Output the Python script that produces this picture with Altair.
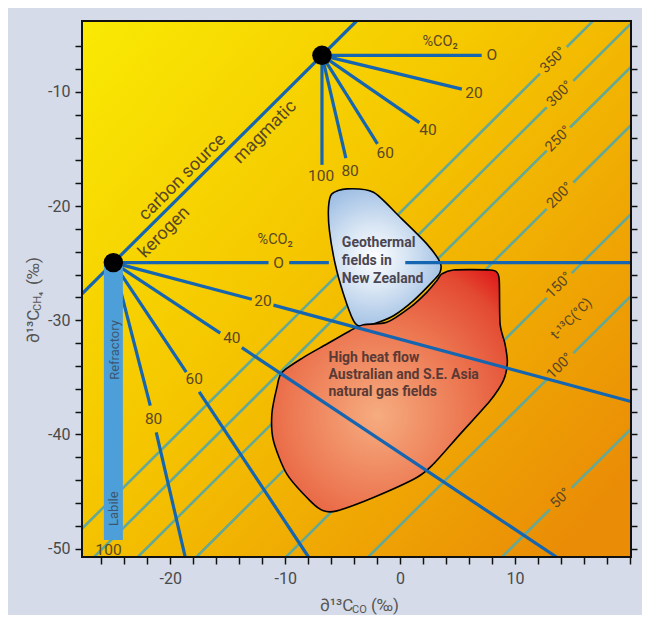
import altair as alt
import pandas as pd

W, H = 549, 536
X_DOMAIN = [-27.68, 20.09]
Y_DOMAIN = [-50.73, -3.79]

BLUE = "#1565b0"
TEAL = "#64a896"
TXT = "#5a4726"
FONT = "Roboto, Liberation Sans, sans-serif"

# ---------------- data ----------------
# carbon source mixing line (kerogen -> magmatic)
source_names = ["kerogen", "magmatic"]
source_x = [-24.95, -6.8]
source_y = [-24.95, -6.8]
carbon_line_x = [-27.68, -3.79]
carbon_line_y = [-27.68, -3.79]

# %CO2 rays from the magmatic end member
mag_co2 = ["O", "20", "40", "60", "80", "100"]
mag_end_x = [7.1, 5.37, 1.68, -1.97, -4.72, -6.8]
mag_end_y = [-6.8, -9.76, -12.69, -14.55, -15.80, -16.39]
mag_lab_x = [7.97, 6.43, 2.43, -1.30, -4.35, -6.87]
mag_lab_y = [-6.76, -10.06, -13.33, -15.31, -16.89, -17.35]

# %CO2 rays from the kerogen end member (segments, broken at labels)
ker_seg_x1 = [-24.95, -9.65, 0.45, -24.95, -11.02, -24.95, -13.77, -24.95, -17.48, -24.95, -21.22]
ker_seg_y1 = [-24.95, -24.95, -24.95, -24.95, -28.67, -24.95, -32.40, -24.95, -36.27, -24.95, -39.82]
ker_seg_x2 = [-11.45, -6.2, 20.09, -12.9, 20.09, -15.65, 13.6, -18.61, -7.97, -21.74, -18.7]
ker_seg_y2 = [-24.95, -24.95, -24.95, -28.16, -37.11, -31.13, -50.73, -34.54, -50.73, -37.48, -50.73]
ker_co2 = ["O", "20", "40", "60", "80", "100"]
ker_lab_x = [-10.58, -11.94, -14.64, -17.91, -21.45, -25.37]
ker_lab_y = [-24.95, -28.27, -31.56, -35.15, -38.62, -50.15]

co2_title_x = [3.48, -10.87]
co2_title_y = [-5.60, -22.95]

# refractory / labile bar
bar_x = -24.95
bar_y_top = -24.95
bar_y_bottom = -49.25
bar_text = ["Refractory", "Labile"]
bar_text_x = [-24.85, -24.9]
bar_text_y = [-32.6, -46.5]

# temperature isotherms  (y = x + c), broken where labelled
temps = [350, 300, 250, 200, 150, 100, 50]
temp_c = [-20.57, -24.1, -27.9, -33.0, -40.8, -47.95, -59.6]
gap_lo = [12.17, 12.76, 12.76, 12.76, 12.76, 12.76, 13.04]
gap_hi = [14.5, 15.07, 14.78, 15.07, 14.93, 15.07, 14.93]

# geothermal fields polygon
geo_x = [-5.94, -4.63, -2.32, 0.0, 2.32, 3.48, 3.48, 2.90, 1.16, -0.58, -2.32, -3.48,
         -4.06, -4.93, -5.65, -6.15, -6.23]
geo_y = [-18.93, -18.49, -18.79, -20.98, -23.31, -24.93, -25.80, -26.53, -28.28, -29.60,
         -30.32, -30.53, -30.03, -27.69, -25.07, -22.15, -20.11]

# high heat flow gas fields polygon
gas_x = [3.63, 4.63, 7.83, 8.41, 8.63, 8.70, 9.13, 9.33, 8.98, 7.83, 5.22, 2.90, 1.45,
         -2.32, -5.50, -6.67, -7.83, -9.85, -11.02, -11.16, -10.72, -10.29, -8.41, -6.37,
         -4.35, -3.19, -1.16, 0.87, 2.32, 3.19]
gas_y = [-25.94, -25.59, -25.59, -25.80, -26.53, -30.32, -32.08, -33.69, -35.29, -37.05,
         -39.97, -42.59, -43.77, -45.52, -46.69, -46.69, -45.81, -43.47, -40.55, -38.21,
         -35.88, -34.57, -33.25, -32.08, -30.91, -30.39, -30.18, -28.87, -27.55, -26.53]

geo_lines = ["Geothermal", "fields in", "New Zealand"]
geo_text_x = -5.07
geo_text_y = [-23.24, -24.79, -26.37]
gas_lines = ["High heat flow", "Australian and S.E. Asia", "natural gas fields"]
gas_text_x = -6.23
gas_text_y = [-33.26, -34.83, -36.32]

rot_labels = ["carbon source", "kerogen", "magmatic", "t-\u00b9\u00b3C(\u00b0C)"]
rot_x = [-18.93, -20.52, -11.74, 14.93]
rot_y = [-17.48, -22.3, -13.53, -29.89]

x_ticks = list(range(-26, 21, 2))
y_ticks = list(range(-50, -5, 2))

# ---------------- helpers ----------------
xs = alt.Scale(domain=X_DOMAIN, nice=False, zero=False)
ys = alt.Scale(domain=Y_DOMAIN, nice=False, zero=False)


def X(f, **kw):
    return alt.X(f, type="quantitative", scale=xs, axis=None, **kw)


def Y(f, **kw):
    return alt.Y(f, type="quantitative", scale=ys, axis=None, **kw)


one = pd.DataFrame({"a": [0]})

bg = alt.Chart(one).mark_rect(
    fill=alt.LinearGradient(
        gradient="linear", x1=0, y1=0, x2=1, y2=0.85,
        stops=[alt.GradientStop(color="#f9ea03", offset=0),
               alt.GradientStop(color="#f5c600", offset=0.45),
               alt.GradientStop(color="#ea8c06", offset=1)])
).encode(x=alt.value(0), x2=alt.value(W), y=alt.value(0), y2=alt.value(H))

# isotherm segments
rows = []
for t, c, lo, hi in zip(temps, temp_c, gap_lo, gap_hi):
    rows.append({"x1": -40, "y1": -40 + c, "x2": lo, "y2": lo + c})
    rows.append({"x1": hi, "y1": hi + c, "x2": 40, "y2": 40 + c})
iso = alt.Chart(pd.DataFrame(rows)).mark_rule(clip=True, stroke=TEAL, strokeWidth=2.6).encode(
    x=X("x1"), y=Y("y1"), x2="x2", y2="y2")

iso_lab = pd.DataFrame({
    "t": [f"{t}\u00b0" for t in temps],
    "x": [(a + b) / 2 for a, b in zip(gap_lo, gap_hi)],
    "y": [(a + b) / 2 + c for a, b, c in zip(gap_lo, gap_hi, temp_c)],
})
iso_text = alt.Chart(iso_lab).mark_text(font=FONT, fontSize=14.5, color=TXT, angle=315).encode(
    x=X("x"), y=Y("y"), text="t:N")

geo_grad = alt.RadialGradient(
    gradient="radial", x1=0.42, y1=0.5, r1=0, x2=0.42, y2=0.5, r2=0.62,
    stops=[alt.GradientStop(color="#ffffff", offset=0),
           alt.GradientStop(color="#d6e4f3", offset=0.4),
           alt.GradientStop(color="#8eb3df", offset=1)])
gas_grad = alt.RadialGradient(
    gradient="radial", x1=0.45, y1=0.6, r1=0, x2=0.45, y2=0.6, r2=0.75,
    stops=[alt.GradientStop(color="#f6ac80", offset=0),
           alt.GradientStop(color="#ec7650", offset=0.5),
           alt.GradientStop(color="#e34a32", offset=0.85),
           alt.GradientStop(color="#e01f1c", offset=1)])

geo_df = pd.DataFrame({"i": range(len(geo_x)), "x": geo_x, "y": geo_y})
gas_df = pd.DataFrame({"i": range(len(gas_x)), "x": gas_x, "y": gas_y})
geo_poly = alt.Chart(geo_df).mark_line(
    interpolate="cardinal-closed", tension=0.2, fill=geo_grad, stroke="black", strokeWidth=1.6
).encode(x=X("x"), y=Y("y"), order="i:Q")
gas_poly = alt.Chart(gas_df).mark_line(
    interpolate="cardinal-closed", tension=0.2, fill=gas_grad, stroke="black", strokeWidth=1.6
).encode(x=X("x"), y=Y("y"), order="i:Q")

# carbon source line
cs = alt.Chart(pd.DataFrame({"x1": [carbon_line_x[0]], "y1": [carbon_line_y[0]],
                             "x2": [carbon_line_x[1]], "y2": [carbon_line_y[1]]})
               ).mark_rule(stroke=BLUE, strokeWidth=3.2).encode(x=X("x1"), y=Y("y1"), x2="x2", y2="y2")

mag_df = pd.DataFrame({"x1": [source_x[1]] * 6, "y1": [source_y[1]] * 6,
                       "x2": mag_end_x, "y2": mag_end_y})
mag_rays = alt.Chart(mag_df).mark_rule(stroke=BLUE, strokeWidth=3.2).encode(
    x=X("x1"), y=Y("y1"), x2="x2", y2="y2")

ker_df = pd.DataFrame({"x1": ker_seg_x1, "y1": ker_seg_y1, "x2": ker_seg_x2, "y2": ker_seg_y2})
ker_rays = alt.Chart(ker_df).mark_rule(stroke=BLUE, strokeWidth=3.2).encode(
    x=X("x1"), y=Y("y1"), x2="x2", y2="y2")

bar = alt.Chart(pd.DataFrame({"x": [bar_x], "y": [bar_y_top], "y2": [bar_y_bottom]})).mark_rule(
    stroke="#4c9fd8", strokeWidth=19).encode(x=X("x"), y=Y("y"), y2="y2")
bar_txt = alt.Chart(pd.DataFrame({"t": bar_text, "x": bar_text_x, "y": bar_text_y})).mark_text(
    font=FONT, fontSize=13, color="#3e5670", angle=270).encode(x=X("x"), y=Y("y"), text="t:N")

lab_df = pd.DataFrame({"t": mag_co2 + ker_co2, "x": mag_lab_x + ker_lab_x, "y": mag_lab_y + ker_lab_y})
labels = alt.Chart(lab_df).mark_text(font=FONT, fontSize=15.5, color=TXT).encode(
    x=X("x"), y=Y("y"), text="t:N")
co2t = alt.Chart(pd.DataFrame({"t": ["%CO\u2082"] * 2, "x": co2_title_x, "y": co2_title_y})).mark_text(
    font=FONT, fontSize=14.5, color=TXT).encode(x=X("x"), y=Y("y"), text="t:N")

rot = alt.Chart(pd.DataFrame({"t": rot_labels, "x": rot_x, "y": rot_y,
                              "s": [18, 18, 18, 14]})).mark_text(
    font=FONT, color=TXT, angle=315).encode(
    x=X("x"), y=Y("y"), text="t:N", size=alt.Size("s:Q", scale=None, legend=None))

geo_t = alt.Chart(pd.DataFrame({"t": geo_lines, "y": geo_text_y, "x": [geo_text_x] * 3})).mark_text(
    font=FONT, fontSize=14, fontWeight="bold", color="#4a4652", align="left").encode(
    x=X("x"), y=Y("y"), text="t:N")
gas_t = alt.Chart(pd.DataFrame({"t": gas_lines, "y": gas_text_y, "x": [gas_text_x] * 3})).mark_text(
    font=FONT, fontSize=14, fontWeight="bold", color="#5a3a35", align="left").encode(
    x=X("x"), y=Y("y"), text="t:N")

src_df = pd.DataFrame({"n": source_names, "x": source_x, "y": source_y})
dots = alt.Chart(src_df).mark_circle(size=380, color="black", opacity=1).encode(
    x=alt.X("x:Q", scale=xs, axis=alt.Axis(
        values=x_ticks, title=None, domain=False, grid=False, tickSize=7, tickWidth=1.5,
        tickColor="#111", labelFont=FONT, labelFontSize=16, labelColor="#4a4a4a", labelPadding=6,
        labelExpr="(datum.value % 10 == 0 && datum.value < 20) ? '' + datum.value : ''")),
    y=alt.Y("y:Q", scale=ys, axis=alt.Axis(
        values=y_ticks, title=None, domain=False, grid=False, tickSize=7, tickWidth=1.5,
        tickColor="#111", labelFont=FONT, labelFontSize=16, labelColor="#4a4a4a", labelPadding=5,
        labelExpr="(datum.value % 10 == 0) ? '' + datum.value : ''")))

right_axis = alt.Chart(src_df).mark_point(opacity=0).encode(
    x=X("x"),
    y=alt.Y("y:Q", scale=ys, axis=alt.Axis(
        orient="right", values=y_ticks, title=None, domain=False, grid=False, labels=False,
        tickSize=6, tickWidth=1.5, tickColor="#111")))

# axis titles (with subscripts)
xt = alt.Chart(pd.DataFrame({"t": ["\u2202\u00b9\u00b3C", "CO", "(\u2030)"],
                             "px": [238, 270, 289], "py": [585, 589, 585],
                             "s": [17, 11, 17]})).mark_text(
    font=FONT, color="#555555", align="left", baseline="middle").encode(
    x=alt.X("px:Q", scale=None, axis=None), y=alt.Y("py:Q", scale=None, axis=None),
    text="t:N", size=alt.Size("s:Q", scale=None, legend=None))
yt = alt.Chart(pd.DataFrame({"t": ["\u2202\u00b9\u00b3C", "CH\u2084", "(\u2030)"],
                             "px": [-48, -44, -48], "py": [322, 290, 264],
                             "s": [17, 11, 17]})).mark_text(
    font=FONT, color="#555555", align="left", baseline="middle", angle=270).encode(
    x=alt.X("px:Q", scale=None, axis=None), y=alt.Y("py:Q", scale=None, axis=None),
    text="t:N", size=alt.Size("s:Q", scale=None, legend=None))

frame = alt.Chart(one).mark_rect(filled=False, stroke="#111111", strokeWidth=2).encode(
    x=alt.value(0), x2=alt.value(W), y=alt.value(0), y2=alt.value(H))

chart = alt.layer(
    bg, iso, iso_text, geo_poly, gas_poly, cs, mag_rays, ker_rays, bar, bar_txt,
    labels, co2t, rot, geo_t, gas_t, dots, right_axis, xt, yt, frame
).resolve_axis(x="independent", y="independent").properties(
    width=W, height=H,
    autosize=alt.AutoSizeParams(type="none"),
    padding={"left": 74, "top": 13, "right": 11, "bottom": 58},
    background="#d5dbe8",
).configure_view(stroke=None)

chart.save("out.html", embed_options={"renderer": "svg", "actions": False})
